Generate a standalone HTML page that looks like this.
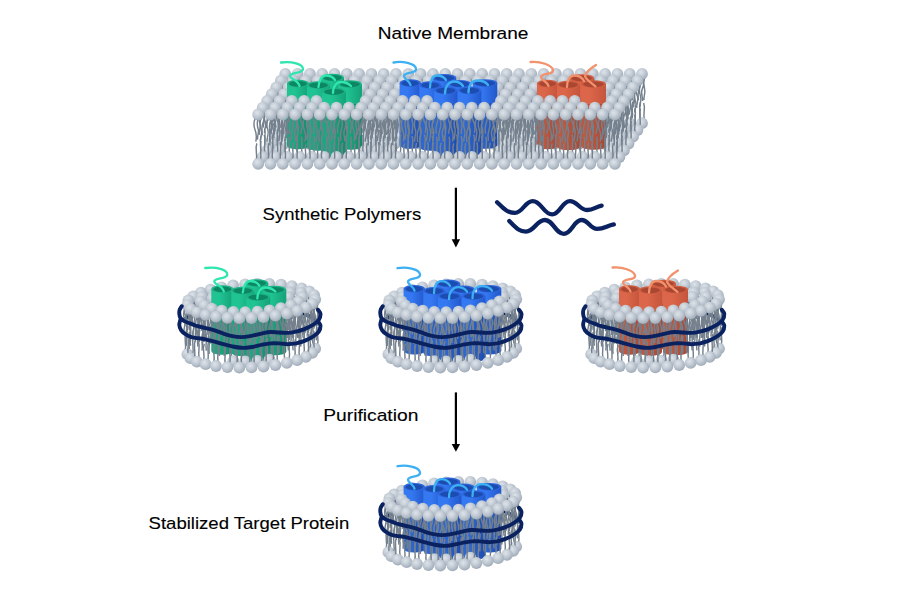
<!DOCTYPE html>
<html><head><meta charset="utf-8"><style>
html,body{margin:0;padding:0;background:#fff;width:900px;height:594px;overflow:hidden}
svg{display:block}
text{font-family:"Liberation Sans",sans-serif}
</style></head><body>
<svg width="900" height="594" viewBox="0 0 900 594">
<defs><radialGradient id="hd" cx="0.4" cy="0.35" r="0.7">
<stop offset="0" stop-color="#dde3e9"/><stop offset="0.4" stop-color="#c7cfd8"/><stop offset="0.75" stop-color="#aeb9c5"/><stop offset="1" stop-color="#98a4b1"/></radialGradient><g id="L0"><path d="M-3.1 4C-4.5 7.5 -4.5 12.1 -3.1 15.6S-1.7 23.6 -2.4 27.1 M0 4C-1.1 7.2 -1.1 11.4 0 14.6S-1.2 22.1 -0.6 25.2 M3 4C1.5 7.3 1.5 11.7 3 15S1.9 22.7 2.5 26" stroke="#74808d" stroke-width="1.45" fill="none"/><path d="M-2 45.3C-0.3 39.6 -3.7 34.6 -1.3 28.9 M2.4 45.3C3.5 38.7 1.2 33 2.8 26.4" stroke="#74808d" stroke-width="1.45" fill="none"/><circle cx="0" cy="49.3" r="5.9" fill="url(#hd)"/><circle cx="0" cy="0" r="5.9" fill="url(#hd)"/></g><g id="M0"><path d="M-3.2 4C-4.3 7.2 -4.3 11.5 -3.2 14.7S-1.7 22.2 -2.4 25.4 M0.2 4C-1.3 7.5 -1.3 12.1 0.2 15.6S1.4 23.7 0.8 27.2 M2.9 4C1.7 7.3 1.7 11.7 2.9 15S4.2 22.6 3.6 25.9" stroke="#74808d" stroke-width="1.45" fill="none"/><path d="M-2.2 45.3C-1 39.2 -3.4 34 -1.7 27.9 M2.2 45.3C0.6 38.9 3.8 33.5 1.5 27.2" stroke="#74808d" stroke-width="1.45" fill="none"/><circle cx="0" cy="0" r="5.9" fill="url(#hd)"/></g><g id="P0"><path d="M-2.2 4C-3.5 7.4 -3.5 11.9 -2.2 15.2S-1 23.1 -1.6 26.5 M2.3 4C1.2 7.3 1.2 11.8 2.3 15.1S1.2 22.9 1.8 26.3" stroke="#74808d" stroke-width="1.45" fill="none"/><path d="M-2.2 45.3C-3.9 38.8 -0.5 33.2 -2.9 26.7 M2.4 45.3C0.7 39.4 4.1 34.3 1.7 28.4" stroke="#74808d" stroke-width="1.45" fill="none"/><circle cx="0" cy="49.3" r="5.9" fill="url(#hd)"/><circle cx="0" cy="0" r="5.9" fill="url(#hd)"/></g><g id="L1"><path d="M-2.9 4C-1.7 7.4 -1.7 11.8 -2.9 15.2S-4.2 23 -3.5 26.4 M0.1 4C1.8 7.5 1.8 12.1 0.1 15.5S1 23.6 0.5 27.1 M2.6 4C1.5 7.4 1.5 11.8 2.6 15.2S1.4 23 2 26.3" stroke="#74808d" stroke-width="1.45" fill="none"/><path d="M-2.3 45.3C-0.8 39.4 -3.8 34.3 -1.7 28.3 M2.3 45.3C0.9 39.6 3.6 34.8 1.7 29.1" stroke="#74808d" stroke-width="1.45" fill="none"/><circle cx="0" cy="49.3" r="5.9" fill="url(#hd)"/><circle cx="0" cy="0" r="5.9" fill="url(#hd)"/></g><g id="M1"><path d="M-3.2 4C-4.4 7.5 -4.4 12.2 -3.2 15.7S-2.1 23.8 -2.6 27.3 M0.1 4C1.3 7.5 1.3 12.3 0.1 15.8S-1.2 24.1 -0.6 27.6 M3.2 4C1.4 7.4 1.4 11.9 3.2 15.3S2.2 23.2 2.7 26.6" stroke="#74808d" stroke-width="1.45" fill="none"/><path d="M-2.6 45.3C-4 39.6 -1.1 34.7 -3.2 29 M2.4 45.3C0.8 39.2 4 34 1.8 27.9" stroke="#74808d" stroke-width="1.45" fill="none"/><circle cx="0" cy="0" r="5.9" fill="url(#hd)"/></g><g id="P1"><path d="M-2.4 4C-0.7 7.4 -0.7 11.9 -2.4 15.3S-1 23.2 -1.7 26.6 M2.1 4C0.3 7.2 0.3 11.5 2.1 14.6S3.2 22.1 2.6 25.3" stroke="#74808d" stroke-width="1.45" fill="none"/><path d="M-2.6 45.3C-1 39 -4.2 33.6 -1.9 27.3 M2.5 45.3C0.7 38.8 4.3 33.3 1.8 26.9" stroke="#74808d" stroke-width="1.45" fill="none"/><circle cx="0" cy="49.3" r="5.9" fill="url(#hd)"/><circle cx="0" cy="0" r="5.9" fill="url(#hd)"/></g><g id="L2"><path d="M-3.1 4C-4.6 7.4 -4.6 11.9 -3.1 15.3S-4.4 23.3 -3.8 26.7 M-0.1 4C-1.6 7.5 -1.6 12.1 -0.1 15.6S-1.3 23.7 -0.7 27.2 M3 4C1.7 7.4 1.7 11.9 3 15.3S2.2 23.2 2.6 26.5" stroke="#74808d" stroke-width="1.45" fill="none"/><path d="M-2.2 45.3C-3.5 39.1 -0.8 33.7 -2.7 27.5 M2.4 45.3C3.8 39.1 1 33.9 3 27.7" stroke="#74808d" stroke-width="1.45" fill="none"/><circle cx="0" cy="49.3" r="5.9" fill="url(#hd)"/><circle cx="0" cy="0" r="5.9" fill="url(#hd)"/></g><g id="M2"><path d="M-2.7 4C-1.2 7.5 -1.2 12.3 -2.7 15.8S-1.8 24.1 -2.3 27.6 M0.3 4C1.6 7.2 1.6 11.4 0.3 14.6S-0.9 21.9 -0.3 25.1 M2.7 4C1.2 7.5 1.2 12.3 2.7 15.8S1.7 24.1 2.2 27.6" stroke="#74808d" stroke-width="1.45" fill="none"/><path d="M-2.3 45.3C-4 38.9 -0.7 33.4 -3 27.1 M2.3 45.3C3.7 38.9 1 33.4 2.9 27" stroke="#74808d" stroke-width="1.45" fill="none"/><circle cx="0" cy="0" r="5.9" fill="url(#hd)"/></g><g id="P2"><path d="M-2 4C-0.6 7.4 -0.6 11.8 -2 15.2S-3 23.1 -2.5 26.4 M2.2 4C3.4 7.3 3.4 11.7 2.2 15S0.7 22.7 1.4 26" stroke="#74808d" stroke-width="1.45" fill="none"/><path d="M-2.2 45.3C-3.7 39.1 -0.7 33.8 -2.8 27.7 M2.3 45.3C0.6 39.6 4 34.8 1.6 29.1" stroke="#74808d" stroke-width="1.45" fill="none"/><circle cx="0" cy="49.3" r="5.9" fill="url(#hd)"/><circle cx="0" cy="0" r="5.9" fill="url(#hd)"/></g><g id="L3"><path d="M-2.6 4C-4 7.5 -4 12.1 -2.6 15.5S-4.1 23.6 -3.4 27.1 M0.1 4C1.5 7.5 1.5 12.3 0.1 15.8S-0.8 24.1 -0.4 27.6 M2.7 4C1.2 7.2 1.2 11.4 2.7 14.6S1.1 22 1.9 25.1" stroke="#74808d" stroke-width="1.45" fill="none"/><path d="M-2.2 45.3C-0.6 39.4 -3.8 34.3 -1.6 28.4 M2.1 45.3C0.5 39 3.8 33.6 1.5 27.3" stroke="#74808d" stroke-width="1.45" fill="none"/><circle cx="0" cy="49.3" r="5.9" fill="url(#hd)"/><circle cx="0" cy="0" r="5.9" fill="url(#hd)"/></g><g id="M3"><path d="M-3.1 4C-4.8 7.2 -4.8 11.4 -3.1 14.5S-1.6 21.9 -2.3 25.1 M0.1 4C-1.5 7.3 -1.5 11.7 0.1 15S-0.8 22.7 -0.4 26 M2.7 4C4.1 7.4 4.1 12 2.7 15.4S3.9 23.3 3.3 26.7" stroke="#74808d" stroke-width="1.45" fill="none"/><path d="M-2.5 45.3C-3.7 38.9 -1.2 33.4 -3 27.1 M2.3 45.3C0.8 39.2 3.8 34 1.7 27.9" stroke="#74808d" stroke-width="1.45" fill="none"/><circle cx="0" cy="0" r="5.9" fill="url(#hd)"/></g><g id="P3"><path d="M-2.6 4C-4.4 7.2 -4.4 11.4 -2.6 14.6S-1.3 22.1 -2 25.3 M2.3 4C0.6 7.3 0.6 11.8 2.3 15.1S0.9 22.9 1.6 26.2" stroke="#74808d" stroke-width="1.45" fill="none"/><path d="M-2.4 45.3C-4 39.1 -0.9 33.8 -3.1 27.7 M2.4 45.3C1.2 39.6 3.6 34.6 1.9 28.9" stroke="#74808d" stroke-width="1.45" fill="none"/><circle cx="0" cy="49.3" r="5.9" fill="url(#hd)"/><circle cx="0" cy="0" r="5.9" fill="url(#hd)"/></g><circle id="HT" cx="0" cy="0" r="5.9" fill="url(#hd)"/><linearGradient id="gs_g" x1="0" x2="1" y1="0" y2="0"><stop offset="0" stop-color="#20c493"/><stop offset="0.35" stop-color="#20c493"/><stop offset="1" stop-color="#14a279"/></linearGradient><g id="pg_g"><path d="M321 77.5V139.5A11.5 3.8 0 0 0 344 139.5V77.5Z" fill="url(#gs_g)"/><path d="M321 97.5V139.5A11.5 3.8 0 0 0 344 139.5V97.5Z" fill="#000" fill-opacity="0.14"/><ellipse cx="332.5" cy="77.5" rx="11.5" ry="3.8" fill="#1cb386"/><ellipse cx="332.5" cy="77.8" rx="9.5" ry="2.9" fill="#0d8763"/><path d="M287 83.5V145.5A11 3.8 0 0 0 309 145.5V83.5Z" fill="url(#gs_g)"/><path d="M287 103.5V145.5A11 3.8 0 0 0 309 145.5V103.5Z" fill="#000" fill-opacity="0.14"/><ellipse cx="298" cy="83.5" rx="11" ry="3.8" fill="#1cb386"/><ellipse cx="298" cy="83.8" rx="9" ry="2.9" fill="#0d8763"/><path d="M338 84V146A12 3.8 0 0 0 362 146V84Z" fill="url(#gs_g)"/><path d="M338 104V146A12 3.8 0 0 0 362 146V104Z" fill="#000" fill-opacity="0.14"/><ellipse cx="350" cy="84" rx="12" ry="3.8" fill="#1cb386"/><ellipse cx="350" cy="84.3" rx="10" ry="2.9" fill="#0d8763"/><path d="M307 85V147A11.5 3.8 0 0 0 330 147V85Z" fill="url(#gs_g)"/><path d="M307 105V147A11.5 3.8 0 0 0 330 147V105Z" fill="#000" fill-opacity="0.14"/><ellipse cx="318.5" cy="85" rx="11.5" ry="3.8" fill="#1cb386"/><ellipse cx="318.5" cy="85.3" rx="9.5" ry="2.9" fill="#0d8763"/><path d="M322 91.5V153.5A12 3.8 0 0 0 346 153.5V91.5Z" fill="url(#gs_g)"/><path d="M322 111.5V153.5A12 3.8 0 0 0 346 153.5V111.5Z" fill="#000" fill-opacity="0.14"/><ellipse cx="334" cy="91.5" rx="12" ry="3.8" fill="#1cb386"/><ellipse cx="334" cy="91.8" rx="10" ry="2.9" fill="#0d8763"/><path d="M281 62.5C292 61 303 64 303 69C303 74 290 72 290 76C290 79 298 80 299.5 86 M318.5 87C319 80 322 75.5 326 75.5C330 75.5 333 77 335 80 M333 93C333 86 337 82 341 82C345 82 348 83 351 86" stroke="#2ee6ae" stroke-width="2.3" fill="none" stroke-linecap="round"/></g><linearGradient id="gs_b" x1="0" x2="1" y1="0" y2="0"><stop offset="0" stop-color="#3579f2"/><stop offset="0.35" stop-color="#3579f2"/><stop offset="1" stop-color="#2357cc"/></linearGradient><g id="pg_b"><path d="M432.3 77.7V139.7A12 3.8 0 0 0 456.3 139.7V77.7Z" fill="url(#gs_b)"/><path d="M432.3 97.7V139.7A12 3.8 0 0 0 456.3 139.7V97.7Z" fill="#000" fill-opacity="0.14"/><ellipse cx="444.3" cy="77.7" rx="12" ry="3.8" fill="#2d66dc"/><ellipse cx="444.3" cy="78" rx="10" ry="2.9" fill="#1c4cb0"/><path d="M399.6 83V145A10.7 3.8 0 0 0 421 145V83Z" fill="url(#gs_b)"/><path d="M399.6 103V145A10.7 3.8 0 0 0 421 145V103Z" fill="#000" fill-opacity="0.14"/><ellipse cx="410.3" cy="83" rx="10.7" ry="3.8" fill="#2d66dc"/><ellipse cx="410.3" cy="83.3" rx="8.7" ry="2.9" fill="#1c4cb0"/><path d="M472.7 83V145A12.3 3.8 0 0 0 497.3 145V83Z" fill="url(#gs_b)"/><path d="M472.7 103V145A12.3 3.8 0 0 0 497.3 145V103Z" fill="#000" fill-opacity="0.14"/><ellipse cx="485" cy="83" rx="12.3" ry="3.8" fill="#2d66dc"/><ellipse cx="485" cy="83.3" rx="10.3" ry="2.9" fill="#1c4cb0"/><path d="M448.2 83.7V145.7A11.5 3.8 0 0 0 471.2 145.7V83.7Z" fill="url(#gs_b)"/><path d="M448.2 103.7V145.7A11.5 3.8 0 0 0 471.2 145.7V103.7Z" fill="#000" fill-opacity="0.14"/><ellipse cx="459.7" cy="83.7" rx="11.5" ry="3.8" fill="#2d66dc"/><ellipse cx="459.7" cy="84" rx="9.5" ry="2.9" fill="#1c4cb0"/><path d="M419.3 85V147A11 3.8 0 0 0 441.3 147V85Z" fill="url(#gs_b)"/><path d="M419.3 105V147A11 3.8 0 0 0 441.3 147V105Z" fill="#000" fill-opacity="0.14"/><ellipse cx="430.3" cy="85" rx="11" ry="3.8" fill="#2d66dc"/><ellipse cx="430.3" cy="85.3" rx="9" ry="2.9" fill="#1c4cb0"/><path d="M434 90.3V152.3A11.7 3.8 0 0 0 457.4 152.3V90.3Z" fill="url(#gs_b)"/><path d="M434 110.3V152.3A11.7 3.8 0 0 0 457.4 152.3V110.3Z" fill="#000" fill-opacity="0.14"/><ellipse cx="445.7" cy="90.3" rx="11.7" ry="3.8" fill="#2d66dc"/><ellipse cx="445.7" cy="90.6" rx="9.7" ry="2.9" fill="#1c4cb0"/><path d="M458 90.3V152.3A11.7 3.8 0 0 0 481.4 152.3V90.3Z" fill="url(#gs_b)"/><path d="M458 110.3V152.3A11.7 3.8 0 0 0 481.4 152.3V110.3Z" fill="#000" fill-opacity="0.14"/><ellipse cx="469.7" cy="90.3" rx="11.7" ry="3.8" fill="#2d66dc"/><ellipse cx="469.7" cy="90.6" rx="9.7" ry="2.9" fill="#1c4cb0"/><path d="M393.5 62.5C402 61 415 63 416 68.5C417 74 404 72 404 76C404 79 409 80 410.5 85 M430 87.5C430 80 433 75.5 437 75.5C441 75.5 444 77 446 80 M445 93.5C445 86 449 81.5 454 81.5C458 81.5 461 83 463 86 M468.5 92.5C468.5 85 472 80.5 477 80.5C482 80.5 486 82 488 85" stroke="#3cb0f2" stroke-width="2.3" fill="none" stroke-linecap="round"/></g><linearGradient id="gs_o" x1="0" x2="1" y1="0" y2="0"><stop offset="0" stop-color="#dc6649"/><stop offset="0.35" stop-color="#dc6649"/><stop offset="1" stop-color="#c4553c"/></linearGradient><g id="pg_o"><path d="M569 78V140A12.5 3.8 0 0 0 594 140V78Z" fill="url(#gs_o)"/><path d="M569 98V140A12.5 3.8 0 0 0 594 140V98Z" fill="#000" fill-opacity="0.14"/><ellipse cx="581.5" cy="78" rx="12.5" ry="3.8" fill="#cf5e40"/><ellipse cx="581.5" cy="78.3" rx="10.5" ry="2.9" fill="#aa4733"/><path d="M537 83.5V145.5A10.5 3.8 0 0 0 558 145.5V83.5Z" fill="url(#gs_o)"/><path d="M537 103.5V145.5A10.5 3.8 0 0 0 558 145.5V103.5Z" fill="#000" fill-opacity="0.14"/><ellipse cx="547.5" cy="83.5" rx="10.5" ry="3.8" fill="#cf5e40"/><ellipse cx="547.5" cy="83.8" rx="8.5" ry="2.9" fill="#aa4733"/><path d="M581 84V146A12.5 3.8 0 0 0 606 146V84Z" fill="url(#gs_o)"/><path d="M581 104V146A12.5 3.8 0 0 0 606 146V104Z" fill="#000" fill-opacity="0.14"/><ellipse cx="593.5" cy="84" rx="12.5" ry="3.8" fill="#cf5e40"/><ellipse cx="593.5" cy="84.3" rx="10.5" ry="2.9" fill="#aa4733"/><path d="M557 84.5V146.5A11.5 3.8 0 0 0 580 146.5V84.5Z" fill="url(#gs_o)"/><path d="M557 104.5V146.5A11.5 3.8 0 0 0 580 146.5V104.5Z" fill="#000" fill-opacity="0.14"/><ellipse cx="568.5" cy="84.5" rx="11.5" ry="3.8" fill="#cf5e40"/><ellipse cx="568.5" cy="84.8" rx="9.5" ry="2.9" fill="#aa4733"/><path d="M530.5 62C540 61 552 65 553 70C554 75 541 73 541 77C541 80 547 81 548.5 86 M567 87C567 80 570 75.5 574 75.5C578 75.5 582 77 584 81 M596 65C591 68 586 72 585 76C586 80 592 83 595.5 86.5" stroke="#f3916d" stroke-width="2.3" fill="none" stroke-linecap="round"/></g></defs>
<rect width="900" height="594" fill="#fff"/>
<use href="#L2" x="285.3" y="73.9"/><use href="#L1" x="297.6" y="73.9"/><use href="#L0" x="309.9" y="73.9"/><use href="#L3" x="322.2" y="73.9"/><use href="#L2" x="334.5" y="73.9"/><use href="#L1" x="346.8" y="73.9"/><use href="#L0" x="359.1" y="73.9"/><use href="#L3" x="371.4" y="73.9"/><use href="#L2" x="383.7" y="73.9"/><use href="#L1" x="396" y="73.9"/><use href="#L0" x="408.3" y="73.9"/><use href="#L3" x="420.6" y="73.9"/><use href="#L2" x="432.9" y="73.9"/><use href="#L1" x="445.2" y="73.9"/><use href="#L0" x="457.5" y="73.9"/><use href="#L3" x="469.8" y="73.9"/><use href="#L2" x="482.1" y="73.9"/><use href="#L1" x="494.4" y="73.9"/><use href="#L0" x="506.7" y="73.9"/><use href="#L3" x="519" y="73.9"/><use href="#L2" x="531.3" y="73.9"/><use href="#L1" x="543.6" y="73.9"/><use href="#L0" x="555.9" y="73.9"/><use href="#L3" x="568.2" y="73.9"/><use href="#L2" x="580.5" y="73.9"/><use href="#L1" x="592.8" y="73.9"/><use href="#L0" x="605.1" y="73.9"/><use href="#L3" x="617.4" y="73.9"/><use href="#L2" x="629.7" y="73.9"/><use href="#L1" x="642" y="73.9"/><use href="#L3" x="280.8" y="80.7"/><use href="#L2" x="293.1" y="80.7"/><use href="#L1" x="305.4" y="80.7"/><use href="#L0" x="317.7" y="80.7"/><use href="#L3" x="330" y="80.7"/><use href="#L2" x="342.3" y="80.7"/><use href="#L1" x="354.6" y="80.7"/><use href="#L0" x="366.9" y="80.7"/><use href="#L3" x="379.2" y="80.7"/><use href="#L2" x="391.5" y="80.7"/><use href="#L1" x="403.8" y="80.7"/><use href="#L0" x="416.1" y="80.7"/><use href="#L3" x="428.4" y="80.7"/><use href="#L2" x="440.7" y="80.7"/><use href="#L1" x="453" y="80.7"/><use href="#L0" x="465.3" y="80.7"/><use href="#L3" x="477.6" y="80.7"/><use href="#L2" x="489.9" y="80.7"/><use href="#L1" x="502.2" y="80.7"/><use href="#L0" x="514.5" y="80.7"/><use href="#L3" x="526.8" y="80.7"/><use href="#L2" x="539.1" y="80.7"/><use href="#L1" x="551.4" y="80.7"/><use href="#L0" x="563.7" y="80.7"/><use href="#L3" x="576" y="80.7"/><use href="#L2" x="588.3" y="80.7"/><use href="#L1" x="600.6" y="80.7"/><use href="#L0" x="612.9" y="80.7"/><use href="#L3" x="625.2" y="80.7"/><use href="#L2" x="637.5" y="80.7"/><use href="#L0" x="276.3" y="87.4"/><use href="#L3" x="288.6" y="87.4"/><use href="#L2" x="300.9" y="87.4"/><use href="#L1" x="313.2" y="87.4"/><use href="#L0" x="325.5" y="87.4"/><use href="#L3" x="337.8" y="87.4"/><use href="#L2" x="350.1" y="87.4"/><use href="#L1" x="362.4" y="87.4"/><use href="#L0" x="374.7" y="87.4"/><use href="#L3" x="387" y="87.4"/><use href="#L2" x="399.3" y="87.4"/><use href="#L1" x="411.6" y="87.4"/><use href="#L0" x="423.9" y="87.4"/><use href="#L3" x="436.2" y="87.4"/><use href="#L2" x="448.5" y="87.4"/><use href="#L1" x="460.8" y="87.4"/><use href="#L0" x="473.1" y="87.4"/><use href="#L3" x="485.4" y="87.4"/><use href="#L2" x="497.7" y="87.4"/><use href="#L1" x="510" y="87.4"/><use href="#L0" x="522.3" y="87.4"/><use href="#L3" x="534.6" y="87.4"/><use href="#L2" x="546.9" y="87.4"/><use href="#L1" x="559.2" y="87.4"/><use href="#L0" x="571.5" y="87.4"/><use href="#L3" x="583.8" y="87.4"/><use href="#L2" x="596.1" y="87.4"/><use href="#L1" x="608.4" y="87.4"/><use href="#L0" x="620.7" y="87.4"/><use href="#L3" x="633" y="87.4"/><use href="#L1" x="271.8" y="94.2"/><use href="#L0" x="284.1" y="94.2"/><use href="#L3" x="296.4" y="94.2"/><use href="#L2" x="308.7" y="94.2"/><use href="#L1" x="321" y="94.2"/><use href="#L0" x="333.3" y="94.2"/><use href="#L3" x="345.6" y="94.2"/><use href="#L2" x="357.9" y="94.2"/><use href="#L1" x="370.2" y="94.2"/><use href="#L0" x="382.5" y="94.2"/><use href="#L3" x="394.8" y="94.2"/><use href="#L2" x="407.1" y="94.2"/><use href="#L1" x="419.4" y="94.2"/><use href="#L0" x="431.7" y="94.2"/><use href="#L3" x="444" y="94.2"/><use href="#L2" x="456.3" y="94.2"/><use href="#L1" x="468.6" y="94.2"/><use href="#L0" x="480.9" y="94.2"/><use href="#L3" x="493.2" y="94.2"/><use href="#L2" x="505.5" y="94.2"/><use href="#L1" x="517.8" y="94.2"/><use href="#L0" x="530.1" y="94.2"/><use href="#L3" x="542.4" y="94.2"/><use href="#L2" x="554.7" y="94.2"/><use href="#L1" x="567" y="94.2"/><use href="#L0" x="579.3" y="94.2"/><use href="#L3" x="591.6" y="94.2"/><use href="#L2" x="603.9" y="94.2"/><use href="#L1" x="616.2" y="94.2"/><use href="#L0" x="628.5" y="94.2"/><use href="#pg_g"/><use href="#pg_b"/><use href="#pg_o"/><use href="#L2" x="267.2" y="101"/><use href="#L1" x="279.5" y="101"/><use href="#HT" x="291.8" y="101"/><use href="#HT" x="304.1" y="101"/><use href="#HT" x="316.4" y="101"/><use href="#L2" x="365.6" y="101"/><use href="#L1" x="377.9" y="101"/><use href="#L0" x="390.2" y="101"/><use href="#HT" x="402.5" y="101"/><use href="#HT" x="414.8" y="101"/><use href="#HT" x="427.1" y="101"/><use href="#L3" x="500.9" y="101"/><use href="#L2" x="513.2" y="101"/><use href="#L1" x="525.5" y="101"/><use href="#L0" x="537.8" y="101"/><use href="#HT" x="550.1" y="101"/><use href="#HT" x="562.4" y="101"/><use href="#HT" x="574.7" y="101"/><use href="#L2" x="611.6" y="101"/><use href="#L1" x="623.9" y="101"/><use href="#L3" x="262.7" y="107.7"/><use href="#L2" x="275" y="107.7"/><use href="#L1" x="287.3" y="107.7"/><use href="#P3" x="299.6" y="107.7"/><use href="#P0" x="311.9" y="107.7"/><use href="#P1" x="324.2" y="107.7"/><use href="#P2" x="336.5" y="107.7"/><use href="#P3" x="348.8" y="107.7"/><use href="#L3" x="361.1" y="107.7"/><use href="#L2" x="373.4" y="107.7"/><use href="#L1" x="385.7" y="107.7"/><use href="#L0" x="398" y="107.7"/><use href="#P0" x="410.3" y="107.7"/><use href="#P1" x="422.6" y="107.7"/><use href="#P2" x="434.9" y="107.7"/><use href="#P3" x="447.2" y="107.7"/><use href="#P0" x="459.5" y="107.7"/><use href="#P1" x="471.8" y="107.7"/><use href="#P2" x="484.1" y="107.7"/><use href="#L0" x="496.4" y="107.7"/><use href="#L3" x="508.7" y="107.7"/><use href="#L2" x="521" y="107.7"/><use href="#L1" x="533.3" y="107.7"/><use href="#P3" x="545.6" y="107.7"/><use href="#P0" x="557.9" y="107.7"/><use href="#P1" x="570.2" y="107.7"/><use href="#P2" x="582.5" y="107.7"/><use href="#P3" x="594.8" y="107.7"/><use href="#L3" x="607.1" y="107.7"/><use href="#L2" x="619.4" y="107.7"/><use href="#L0" x="258.2" y="114.5"/><use href="#L3" x="270.5" y="114.5"/><use href="#L2" x="282.8" y="114.5"/><use href="#L1" x="295.1" y="114.5"/><use href="#L0" x="307.4" y="114.5"/><use href="#L3" x="319.7" y="114.5"/><use href="#L2" x="332" y="114.5"/><use href="#L1" x="344.3" y="114.5"/><use href="#L0" x="356.6" y="114.5"/><use href="#L3" x="368.9" y="114.5"/><use href="#L2" x="381.2" y="114.5"/><use href="#L1" x="393.5" y="114.5"/><use href="#L0" x="405.8" y="114.5"/><use href="#L3" x="418.1" y="114.5"/><use href="#L2" x="430.4" y="114.5"/><use href="#L1" x="442.7" y="114.5"/><use href="#L0" x="455" y="114.5"/><use href="#L3" x="467.3" y="114.5"/><use href="#L2" x="479.6" y="114.5"/><use href="#L1" x="491.9" y="114.5"/><use href="#L0" x="504.2" y="114.5"/><use href="#L3" x="516.5" y="114.5"/><use href="#L2" x="528.8" y="114.5"/><use href="#L1" x="541.1" y="114.5"/><use href="#L0" x="553.4" y="114.5"/><use href="#L3" x="565.7" y="114.5"/><use href="#L2" x="578" y="114.5"/><use href="#L1" x="590.3" y="114.5"/><use href="#L0" x="602.6" y="114.5"/><use href="#L3" x="614.9" y="114.5"/><g transform="translate(0 0)"><path d="M183.1 307.9A69.8 21.5 0 0 1 209.5 296.9" stroke="#0b2261" stroke-width="3.6" fill="none"/><path d="M289.5 296.9A69.8 21.5 0 0 1 315.9 307.9" stroke="#0b2261" stroke-width="3.6" fill="none"/><path d="M183.1 320.5A69.8 21 0 0 1 209.5 309.8" stroke="#0b2261" stroke-width="3.6" fill="none"/><path d="M289.5 309.8A69.8 21 0 0 1 315.9 320.5" stroke="#0b2261" stroke-width="3.6" fill="none"/><use href="#M3" x="257.3" y="283.8"/><use href="#M0" x="269.3" y="283.9"/><use href="#M2" x="245.1" y="284.3"/><use href="#M1" x="281.1" y="284.7"/><use href="#M1" x="233.1" y="285.5"/><use href="#M2" x="291.9" y="286.1"/><use href="#M0" x="221.4" y="287.3"/><use href="#M3" x="301.6" y="288.3"/><use href="#M3" x="210.5" y="289.7"/><use href="#M0" x="309.3" y="291.3"/><use href="#M0" x="300.9" y="292.6"/><use href="#M2" x="200.9" y="292.7"/><use href="#M1" x="290.1" y="292.7"/><use href="#M1" x="214.1" y="294"/><use href="#M1" x="314.1" y="295.1"/><use href="#M1" x="193.2" y="296.4"/><use href="#M2" x="201.7" y="296.9"/><use href="#M1" x="302.1" y="296.9"/><use href="#M2" x="288.5" y="297"/><use href="#M0" x="212.5" y="298.3"/><use href="#pg_g" x="-75.7" y="205.5"/><use href="#L2" x="315.2" y="299.3"/><use href="#M0" x="188.4" y="300.5"/><use href="#M1" x="200.5" y="301.3"/><use href="#M2" x="298.4" y="301.3"/><use href="#L3" x="312.2" y="303.6"/><use href="#L3" x="187.4" y="304.9"/><use href="#M3" x="290.9" y="305.1"/><use href="#M0" x="204.2" y="305.4"/><use href="#L0" x="305.9" y="307.5"/><use href="#M0" x="280.9" y="308.1"/><use href="#M3" x="211.8" y="308.6"/><use href="#L2" x="190.4" y="308.9"/><use href="#L1" x="269.5" y="310.3"/><use href="#M2" x="221.8" y="310.7"/><use href="#L1" x="297.1" y="310.9"/><use href="#L2" x="257.5" y="311.6"/><use href="#L1" x="233.3" y="311.9"/><use href="#L0" x="245.2" y="312.2"/><use href="#L1" x="196.8" y="312.3"/><use href="#L2" x="286.8" y="313.6"/><use href="#L0" x="205.6" y="314.9"/><use href="#L3" x="275.4" y="315.7"/><use href="#L3" x="216" y="316.7"/><use href="#L0" x="263.5" y="317.2"/><use href="#L2" x="227.4" y="317.8"/><use href="#L0" x="251.5" y="318"/><use href="#L1" x="239.3" y="318.2"/><path d="M181.8 306.2C181.4 306.8 180 308.8 179.6 310C179.2 311.2 179.2 312.3 179.3 313.6C179.4 314.9 179.7 316.6 180.4 317.8C181.2 319 182.3 319.9 183.8 320.8C185.3 321.7 187 322.3 189.2 323.1C191.3 323.9 194.1 325 196.7 325.8C199.2 326.6 201.5 327 204.5 327.8C207.5 328.6 211.4 329.4 214.6 330.4C217.8 331.4 220.4 332.6 223.4 333.6C226.4 334.6 229.3 335.6 232.3 336.2C235.3 336.8 238.2 337.1 241.2 337.1C244.2 337.1 246.6 336.8 250.1 336.2C253.6 335.6 258.9 334 262.4 333.3C265.8 332.6 268 332.1 270.8 332C273.6 331.9 276.5 332.4 279.3 332.5C282.1 332.6 284.9 333 287.7 332.9C290.5 332.8 293.3 332.2 296.1 331.6C298.9 331 301.7 330.2 304.5 329.1C307.3 328 310.5 326.4 312.9 324.9C315.3 323.3 317.5 321.6 318.8 319.8C320.1 318 320.6 315.6 320.5 313.9C320.4 312.2 318.4 310.4 318 309.7" stroke="#0b2261" stroke-width="3.9" fill="none" stroke-linecap="round"/><path d="M180.4 319.6C180.2 320.5 179.2 323.2 179.3 325C179.4 326.8 180.2 328.8 181.2 330.3C182.2 331.8 183.7 333 185.4 334.1C187.1 335.2 189.3 336.4 191.4 337.1C193.5 337.8 196 338 198.2 338.3C200.4 338.6 201.8 338.6 204.5 339.1C207.2 339.7 211.4 340.8 214.6 341.6C217.8 342.5 220.4 343.4 223.4 344.2C226.4 345 229.3 345.8 232.3 346.4C235.3 347 238.2 347.6 241.2 347.8C244.2 348 246.6 347.8 250.1 347.3C253.6 346.8 258.9 345.4 262.4 344.7C265.8 344 268 343.6 270.8 343.4C273.6 343.2 276.5 343.3 279.3 343.4C282.1 343.5 284.9 344.2 287.7 344.2C290.5 344.2 293.3 343.9 296.1 343.4C298.9 342.8 301.7 342 304.5 340.9C307.3 339.8 310.5 338.2 312.9 336.7C315.3 335.1 317.5 333.4 318.8 331.6C320.1 329.8 320.5 327.2 320.5 325.7C320.5 324.2 319.1 322.9 318.8 322.4" stroke="#0b2261" stroke-width="3.9" fill="none" stroke-linecap="round"/></g><g transform="translate(201 0)"><path d="M183.1 307.9A69.8 21.5 0 0 1 209.5 296.9" stroke="#0b2261" stroke-width="3.6" fill="none"/><path d="M289.5 296.9A69.8 21.5 0 0 1 315.9 307.9" stroke="#0b2261" stroke-width="3.6" fill="none"/><path d="M183.1 320.5A69.8 21 0 0 1 209.5 309.8" stroke="#0b2261" stroke-width="3.6" fill="none"/><path d="M289.5 309.8A69.8 21 0 0 1 315.9 320.5" stroke="#0b2261" stroke-width="3.6" fill="none"/><use href="#M3" x="257.3" y="283.8"/><use href="#M0" x="269.3" y="283.9"/><use href="#M2" x="245.1" y="284.3"/><use href="#M1" x="281.1" y="284.7"/><use href="#M1" x="233.1" y="285.5"/><use href="#M2" x="291.9" y="286.1"/><use href="#M0" x="221.4" y="287.3"/><use href="#M3" x="301.6" y="288.3"/><use href="#M3" x="210.5" y="289.7"/><use href="#M0" x="309.3" y="291.3"/><use href="#M0" x="300.9" y="292.6"/><use href="#M2" x="200.9" y="292.7"/><use href="#M1" x="290.1" y="292.7"/><use href="#M1" x="214.1" y="294"/><use href="#M1" x="314.1" y="295.1"/><use href="#M1" x="193.2" y="296.4"/><use href="#M2" x="201.7" y="296.9"/><use href="#M1" x="302.1" y="296.9"/><use href="#M2" x="288.5" y="297"/><use href="#M0" x="212.5" y="298.3"/><use href="#pg_b" x="-197" y="205.7"/><use href="#L2" x="315.2" y="299.3"/><use href="#M0" x="188.4" y="300.5"/><use href="#M1" x="200.5" y="301.3"/><use href="#M2" x="298.4" y="301.3"/><use href="#L3" x="312.2" y="303.6"/><use href="#L3" x="187.4" y="304.9"/><use href="#M3" x="290.9" y="305.1"/><use href="#M0" x="204.2" y="305.4"/><use href="#L0" x="305.9" y="307.5"/><use href="#M0" x="280.9" y="308.1"/><use href="#M3" x="211.8" y="308.6"/><use href="#L2" x="190.4" y="308.9"/><use href="#L1" x="269.5" y="310.3"/><use href="#M2" x="221.8" y="310.7"/><use href="#L1" x="297.1" y="310.9"/><use href="#L2" x="257.5" y="311.6"/><use href="#L1" x="233.3" y="311.9"/><use href="#L0" x="245.2" y="312.2"/><use href="#L1" x="196.8" y="312.3"/><use href="#L2" x="286.8" y="313.6"/><use href="#L0" x="205.6" y="314.9"/><use href="#L3" x="275.4" y="315.7"/><use href="#L3" x="216" y="316.7"/><use href="#L0" x="263.5" y="317.2"/><use href="#L2" x="227.4" y="317.8"/><use href="#L0" x="251.5" y="318"/><use href="#L1" x="239.3" y="318.2"/><path d="M181.8 306.2C181.4 306.8 180 308.8 179.6 310C179.2 311.2 179.2 312.3 179.3 313.6C179.4 314.9 179.7 316.6 180.4 317.8C181.2 319 182.3 319.9 183.8 320.8C185.3 321.7 187 322.3 189.2 323.1C191.3 323.9 194.1 325 196.7 325.8C199.2 326.6 201.5 327 204.5 327.8C207.5 328.6 211.4 329.4 214.6 330.4C217.8 331.4 220.4 332.6 223.4 333.6C226.4 334.6 229.3 335.6 232.3 336.2C235.3 336.8 238.2 337.1 241.2 337.1C244.2 337.1 246.6 336.8 250.1 336.2C253.6 335.6 258.9 334 262.4 333.3C265.8 332.6 268 332.1 270.8 332C273.6 331.9 276.5 332.4 279.3 332.5C282.1 332.6 284.9 333 287.7 332.9C290.5 332.8 293.3 332.2 296.1 331.6C298.9 331 301.7 330.2 304.5 329.1C307.3 328 310.5 326.4 312.9 324.9C315.3 323.3 317.5 321.6 318.8 319.8C320.1 318 320.6 315.6 320.5 313.9C320.4 312.2 318.4 310.4 318 309.7" stroke="#0b2261" stroke-width="3.9" fill="none" stroke-linecap="round"/><path d="M180.4 319.6C180.2 320.5 179.2 323.2 179.3 325C179.4 326.8 180.2 328.8 181.2 330.3C182.2 331.8 183.7 333 185.4 334.1C187.1 335.2 189.3 336.4 191.4 337.1C193.5 337.8 196 338 198.2 338.3C200.4 338.6 201.8 338.6 204.5 339.1C207.2 339.7 211.4 340.8 214.6 341.6C217.8 342.5 220.4 343.4 223.4 344.2C226.4 345 229.3 345.8 232.3 346.4C235.3 347 238.2 347.6 241.2 347.8C244.2 348 246.6 347.8 250.1 347.3C253.6 346.8 258.9 345.4 262.4 344.7C265.8 344 268 343.6 270.8 343.4C273.6 343.2 276.5 343.3 279.3 343.4C282.1 343.5 284.9 344.2 287.7 344.2C290.5 344.2 293.3 343.9 296.1 343.4C298.9 342.8 301.7 342 304.5 340.9C307.3 339.8 310.5 338.2 312.9 336.7C315.3 335.1 317.5 333.4 318.8 331.6C320.1 329.8 320.5 327.2 320.5 325.7C320.5 324.2 319.1 322.9 318.8 322.4" stroke="#0b2261" stroke-width="3.9" fill="none" stroke-linecap="round"/></g><g transform="translate(403.8 0)"><path d="M183.1 307.9A69.8 21.5 0 0 1 209.5 296.9" stroke="#0b2261" stroke-width="3.6" fill="none"/><path d="M289.5 296.9A69.8 21.5 0 0 1 315.9 307.9" stroke="#0b2261" stroke-width="3.6" fill="none"/><path d="M183.1 320.5A69.8 21 0 0 1 209.5 309.8" stroke="#0b2261" stroke-width="3.6" fill="none"/><path d="M289.5 309.8A69.8 21 0 0 1 315.9 320.5" stroke="#0b2261" stroke-width="3.6" fill="none"/><use href="#M3" x="257.3" y="283.8"/><use href="#M0" x="269.3" y="283.9"/><use href="#M2" x="245.1" y="284.3"/><use href="#M1" x="281.1" y="284.7"/><use href="#M1" x="233.1" y="285.5"/><use href="#M2" x="291.9" y="286.1"/><use href="#M0" x="221.4" y="287.3"/><use href="#M3" x="301.6" y="288.3"/><use href="#M3" x="210.5" y="289.7"/><use href="#M0" x="309.3" y="291.3"/><use href="#M0" x="300.9" y="292.6"/><use href="#M2" x="200.9" y="292.7"/><use href="#M1" x="290.1" y="292.7"/><use href="#M1" x="214.1" y="294"/><use href="#M1" x="314.1" y="295.1"/><use href="#M1" x="193.2" y="296.4"/><use href="#M2" x="201.7" y="296.9"/><use href="#M1" x="302.1" y="296.9"/><use href="#M2" x="288.5" y="297"/><use href="#M0" x="212.5" y="298.3"/><use href="#pg_o" x="-321.8" y="205.5"/><use href="#L2" x="315.2" y="299.3"/><use href="#M0" x="188.4" y="300.5"/><use href="#M1" x="200.5" y="301.3"/><use href="#M2" x="298.4" y="301.3"/><use href="#L3" x="312.2" y="303.6"/><use href="#L3" x="187.4" y="304.9"/><use href="#M3" x="290.9" y="305.1"/><use href="#M0" x="204.2" y="305.4"/><use href="#L0" x="305.9" y="307.5"/><use href="#M0" x="280.9" y="308.1"/><use href="#M3" x="211.8" y="308.6"/><use href="#L2" x="190.4" y="308.9"/><use href="#L1" x="269.5" y="310.3"/><use href="#M2" x="221.8" y="310.7"/><use href="#L1" x="297.1" y="310.9"/><use href="#L2" x="257.5" y="311.6"/><use href="#L1" x="233.3" y="311.9"/><use href="#L0" x="245.2" y="312.2"/><use href="#L1" x="196.8" y="312.3"/><use href="#L2" x="286.8" y="313.6"/><use href="#L0" x="205.6" y="314.9"/><use href="#L3" x="275.4" y="315.7"/><use href="#L3" x="216" y="316.7"/><use href="#L0" x="263.5" y="317.2"/><use href="#L2" x="227.4" y="317.8"/><use href="#L0" x="251.5" y="318"/><use href="#L1" x="239.3" y="318.2"/><path d="M181.8 306.2C181.4 306.8 180 308.8 179.6 310C179.2 311.2 179.2 312.3 179.3 313.6C179.4 314.9 179.7 316.6 180.4 317.8C181.2 319 182.3 319.9 183.8 320.8C185.3 321.7 187 322.3 189.2 323.1C191.3 323.9 194.1 325 196.7 325.8C199.2 326.6 201.5 327 204.5 327.8C207.5 328.6 211.4 329.4 214.6 330.4C217.8 331.4 220.4 332.6 223.4 333.6C226.4 334.6 229.3 335.6 232.3 336.2C235.3 336.8 238.2 337.1 241.2 337.1C244.2 337.1 246.6 336.8 250.1 336.2C253.6 335.6 258.9 334 262.4 333.3C265.8 332.6 268 332.1 270.8 332C273.6 331.9 276.5 332.4 279.3 332.5C282.1 332.6 284.9 333 287.7 332.9C290.5 332.8 293.3 332.2 296.1 331.6C298.9 331 301.7 330.2 304.5 329.1C307.3 328 310.5 326.4 312.9 324.9C315.3 323.3 317.5 321.6 318.8 319.8C320.1 318 320.6 315.6 320.5 313.9C320.4 312.2 318.4 310.4 318 309.7" stroke="#0b2261" stroke-width="3.9" fill="none" stroke-linecap="round"/><path d="M180.4 319.6C180.2 320.5 179.2 323.2 179.3 325C179.4 326.8 180.2 328.8 181.2 330.3C182.2 331.8 183.7 333 185.4 334.1C187.1 335.2 189.3 336.4 191.4 337.1C193.5 337.8 196 338 198.2 338.3C200.4 338.6 201.8 338.6 204.5 339.1C207.2 339.7 211.4 340.8 214.6 341.6C217.8 342.5 220.4 343.4 223.4 344.2C226.4 345 229.3 345.8 232.3 346.4C235.3 347 238.2 347.6 241.2 347.8C244.2 348 246.6 347.8 250.1 347.3C253.6 346.8 258.9 345.4 262.4 344.7C265.8 344 268 343.6 270.8 343.4C273.6 343.2 276.5 343.3 279.3 343.4C282.1 343.5 284.9 344.2 287.7 344.2C290.5 344.2 293.3 343.9 296.1 343.4C298.9 342.8 301.7 342 304.5 340.9C307.3 339.8 310.5 338.2 312.9 336.7C315.3 335.1 317.5 333.4 318.8 331.6C320.1 329.8 320.5 327.2 320.5 325.7C320.5 324.2 319.1 322.9 318.8 322.4" stroke="#0b2261" stroke-width="3.9" fill="none" stroke-linecap="round"/></g><g transform="translate(201 198)"><path d="M183.1 307.9A69.8 21.5 0 0 1 209.5 296.9" stroke="#0b2261" stroke-width="3.6" fill="none"/><path d="M289.5 296.9A69.8 21.5 0 0 1 315.9 307.9" stroke="#0b2261" stroke-width="3.6" fill="none"/><path d="M183.1 320.5A69.8 21 0 0 1 209.5 309.8" stroke="#0b2261" stroke-width="3.6" fill="none"/><path d="M289.5 309.8A69.8 21 0 0 1 315.9 320.5" stroke="#0b2261" stroke-width="3.6" fill="none"/><use href="#M3" x="257.3" y="283.8"/><use href="#M0" x="269.3" y="283.9"/><use href="#M2" x="245.1" y="284.3"/><use href="#M1" x="281.1" y="284.7"/><use href="#M1" x="233.1" y="285.5"/><use href="#M2" x="291.9" y="286.1"/><use href="#M0" x="221.4" y="287.3"/><use href="#M3" x="301.6" y="288.3"/><use href="#M3" x="210.5" y="289.7"/><use href="#M0" x="309.3" y="291.3"/><use href="#M0" x="300.9" y="292.6"/><use href="#M2" x="200.9" y="292.7"/><use href="#M1" x="290.1" y="292.7"/><use href="#M1" x="214.1" y="294"/><use href="#M1" x="314.1" y="295.1"/><use href="#M1" x="193.2" y="296.4"/><use href="#M2" x="201.7" y="296.9"/><use href="#M1" x="302.1" y="296.9"/><use href="#M2" x="288.5" y="297"/><use href="#M0" x="212.5" y="298.3"/><use href="#pg_b" x="-197" y="205.7"/><use href="#L2" x="315.2" y="299.3"/><use href="#M0" x="188.4" y="300.5"/><use href="#M1" x="200.5" y="301.3"/><use href="#M2" x="298.4" y="301.3"/><use href="#L3" x="312.2" y="303.6"/><use href="#L3" x="187.4" y="304.9"/><use href="#M3" x="290.9" y="305.1"/><use href="#M0" x="204.2" y="305.4"/><use href="#L0" x="305.9" y="307.5"/><use href="#M0" x="280.9" y="308.1"/><use href="#M3" x="211.8" y="308.6"/><use href="#L2" x="190.4" y="308.9"/><use href="#L1" x="269.5" y="310.3"/><use href="#M2" x="221.8" y="310.7"/><use href="#L1" x="297.1" y="310.9"/><use href="#L2" x="257.5" y="311.6"/><use href="#L1" x="233.3" y="311.9"/><use href="#L0" x="245.2" y="312.2"/><use href="#L1" x="196.8" y="312.3"/><use href="#L2" x="286.8" y="313.6"/><use href="#L0" x="205.6" y="314.9"/><use href="#L3" x="275.4" y="315.7"/><use href="#L3" x="216" y="316.7"/><use href="#L0" x="263.5" y="317.2"/><use href="#L2" x="227.4" y="317.8"/><use href="#L0" x="251.5" y="318"/><use href="#L1" x="239.3" y="318.2"/><path d="M181.8 306.2C181.4 306.8 180 308.8 179.6 310C179.2 311.2 179.2 312.3 179.3 313.6C179.4 314.9 179.7 316.6 180.4 317.8C181.2 319 182.3 319.9 183.8 320.8C185.3 321.7 187 322.3 189.2 323.1C191.3 323.9 194.1 325 196.7 325.8C199.2 326.6 201.5 327 204.5 327.8C207.5 328.6 211.4 329.4 214.6 330.4C217.8 331.4 220.4 332.6 223.4 333.6C226.4 334.6 229.3 335.6 232.3 336.2C235.3 336.8 238.2 337.1 241.2 337.1C244.2 337.1 246.6 336.8 250.1 336.2C253.6 335.6 258.9 334 262.4 333.3C265.8 332.6 268 332.1 270.8 332C273.6 331.9 276.5 332.4 279.3 332.5C282.1 332.6 284.9 333 287.7 332.9C290.5 332.8 293.3 332.2 296.1 331.6C298.9 331 301.7 330.2 304.5 329.1C307.3 328 310.5 326.4 312.9 324.9C315.3 323.3 317.5 321.6 318.8 319.8C320.1 318 320.6 315.6 320.5 313.9C320.4 312.2 318.4 310.4 318 309.7" stroke="#0b2261" stroke-width="3.9" fill="none" stroke-linecap="round"/><path d="M180.4 319.6C180.2 320.5 179.2 323.2 179.3 325C179.4 326.8 180.2 328.8 181.2 330.3C182.2 331.8 183.7 333 185.4 334.1C187.1 335.2 189.3 336.4 191.4 337.1C193.5 337.8 196 338 198.2 338.3C200.4 338.6 201.8 338.6 204.5 339.1C207.2 339.7 211.4 340.8 214.6 341.6C217.8 342.5 220.4 343.4 223.4 344.2C226.4 345 229.3 345.8 232.3 346.4C235.3 347 238.2 347.6 241.2 347.8C244.2 348 246.6 347.8 250.1 347.3C253.6 346.8 258.9 345.4 262.4 344.7C265.8 344 268 343.6 270.8 343.4C273.6 343.2 276.5 343.3 279.3 343.4C282.1 343.5 284.9 344.2 287.7 344.2C290.5 344.2 293.3 343.9 296.1 343.4C298.9 342.8 301.7 342 304.5 340.9C307.3 339.8 310.5 338.2 312.9 336.7C315.3 335.1 317.5 333.4 318.8 331.6C320.1 329.8 320.5 327.2 320.5 325.7C320.5 324.2 319.1 322.9 318.8 322.4" stroke="#0b2261" stroke-width="3.9" fill="none" stroke-linecap="round"/></g><line x1="455.9" y1="187.7" x2="455.9" y2="240.3" stroke="#000" stroke-width="2.2"/><path d="M451.7 239.3L460.1 239.3L455.9 247.5Z" fill="#000"/><line x1="455.9" y1="392.4" x2="455.9" y2="445" stroke="#000" stroke-width="2.2"/><path d="M451.7 444L460.1 444L455.9 451.8Z" fill="#000"/><path d="M497.1 202.2C503.3 208.1 506.9 212.9 514.9 212.9C522.9 212.9 524.7 201.1 532.7 201.1C541.5 201.1 543.4 214.4 552.2 214.4C560.1 214.4 561.9 201.1 569.8 201.1C577.6 201.1 579.3 210 587.1 210C593.6 210 595.1 207.1 601.6 205.6" stroke="#0b2261" stroke-width="4.3" fill="none" stroke-linecap="round"/><path d="M509.3 221.1C515.1 226.9 518.5 231.6 526 231.6C534.5 231.6 536.4 220 544.9 220C553.4 220 555.3 233.8 563.8 233.8C571.8 233.8 573.6 220 581.6 220C588.6 220 590.1 228.9 597.1 228.9C604.6 228.9 606.3 225.9 613.8 224.4" stroke="#0b2261" stroke-width="4.3" fill="none" stroke-linecap="round"/><text x="377.8" y="39.1" textLength="150.6" lengthAdjust="spacingAndGlyphs" font-size="17" fill="#000" stroke="#000" stroke-width="0.12">Native Membrane</text><text x="262.6" y="220.4" textLength="158.6" lengthAdjust="spacingAndGlyphs" font-size="17" fill="#000" stroke="#000" stroke-width="0.12">Synthetic Polymers</text><text x="323.2" y="421.3" textLength="95.2" lengthAdjust="spacingAndGlyphs" font-size="17" fill="#000" stroke="#000" stroke-width="0.12">Purification</text><text x="148.6" y="528.9" textLength="200.6" lengthAdjust="spacingAndGlyphs" font-size="17" fill="#000" stroke="#000" stroke-width="0.12">Stabilized Target Protein</text>
</svg></body></html>
